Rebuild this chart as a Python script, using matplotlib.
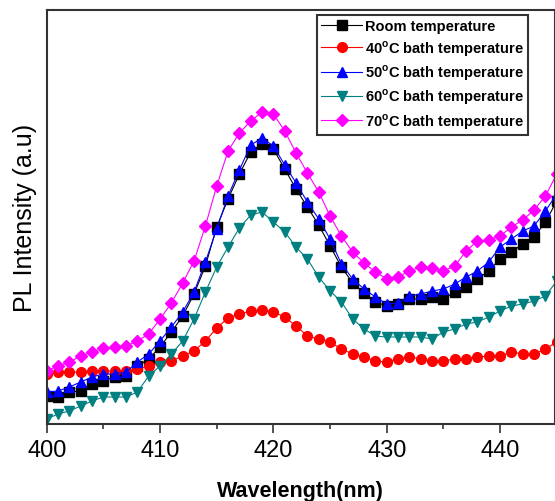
import numpy as np
import matplotlib
matplotlib.use('Agg')
import matplotlib.pyplot as plt
from matplotlib.ticker import MultipleLocator

plt.rcParams['font.family'] = ['Liberation Sans', 'DejaVu Sans']

# 파장 (nm)
wavelength = np.arange(400, 446, 1)

# PL 세기 (a.u.), 그림에서 읽은 값
room = [28, 27, 32, 33, 40, 43, 47, 48, 58, 65,
        77, 92, 108, 130, 158, 197, 225, 250, 272, 280,
        275, 255, 235, 217, 199, 178, 157, 141, 131, 122,
        118, 120, 125, 125, 127, 125, 132, 137, 145, 153,
        165, 172, 180, 187, 202, 223]
bath40 = [50, 52, 52, 52, 53, 53, 53, 53, 55, 58,
          62, 63, 68, 73, 83, 96, 106, 110, 113, 114,
          112, 107, 98, 88, 85, 82, 75, 70, 67, 63,
          62, 65, 67, 65, 63, 63, 65, 65, 67, 68,
          68, 72, 70, 70, 75, 82]
bath50 = [32, 33, 37, 42, 47, 50, 50, 52, 62, 70,
          83, 97, 112, 132, 162, 195, 228, 254, 279, 286,
          278, 259, 241, 222, 205, 185, 160, 145, 135, 127,
          120, 121, 128, 130, 133, 135, 140, 147, 153, 162,
          177, 185, 193, 198, 213, 230]
bath60 = [5, 10, 13, 18, 23, 27, 27, 27, 32, 48,
          58, 70, 83, 105, 132, 157, 177, 196, 209, 212,
          202, 192, 177, 165, 147, 133, 122, 105, 95, 88,
          87, 87, 87, 87, 85, 92, 95, 100, 102, 107,
          113, 118, 120, 123, 128, 143]
bath70 = [53, 58, 62, 68, 72, 76, 77, 78, 83, 90,
          105, 121, 141, 163, 198, 238, 273, 291, 303, 312,
          310, 293, 271, 251, 232, 208, 188, 172, 161, 152,
          145, 147, 153, 157, 156, 153, 158, 173, 183, 184,
          188, 197, 204, 214, 228, 250]

labels = ['Room temperature',
          r'40$^{\mathregular{o}}$C bath temperature',
          r'50$^{\mathregular{o}}$C bath temperature',
          r'60$^{\mathregular{o}}$C bath temperature',
          r'70$^{\mathregular{o}}$C bath temperature']

fig = plt.figure(figsize=(5.55, 5.02), dpi=100)
ax = fig.add_axes([46.7 / 555, 77 / 502, (554.5 - 46.7) / 555, 414 / 502])

series = [
    (room, 'black', 's', 6.5),
    (bath40, '#ff0000', 'o', 7),
    (bath50, '#0000ff', '^', 7.5),
    (bath60, '#008080', 'v', 7.5),
    (bath70, '#ff00ff', 'D', 6),
]
for (vals, color, marker, ms), label in zip(series, labels):
    ax.plot(wavelength, vals, color=color, marker=marker, markersize=ms,
            linewidth=0.8, label=label)

ax.set_xlim(400, 444.8)
ax.set_ylim(0, 414)
ax.set_yticks([])

ax.xaxis.set_major_locator(MultipleLocator(10))
ax.xaxis.set_minor_locator(MultipleLocator(5))
ax.tick_params(axis='x', which='major', direction='out', length=6.5, width=1.2,
               labelsize=17, pad=4, color='#333333')
ax.tick_params(axis='x', which='minor', direction='out', length=3.5, width=1.2,
               color='#333333')
for sp in ax.spines.values():
    sp.set_linewidth(1.5)
    sp.set_color('#333333')

ax.set_xlabel('Wavelength(nm)', fontsize=15.5, fontweight='bold', labelpad=14)
ax.set_ylabel('PL Intensity (a.u)', fontsize=18, labelpad=7)

leg = ax.legend(loc='upper left', bbox_to_anchor=(317 / 555, 1 - 16 / 502),
                bbox_transform=fig.transFigure, frameon=True, fancybox=False,
                prop={'weight': 'bold', 'size': 10.5},
                handlelength=2.8, handletextpad=0.2, labelspacing=0.32,
                borderpad=0.3, borderaxespad=0)
leg.get_frame().set_edgecolor('black')
leg.get_frame().set_linewidth(1.5)

fig.savefig('out.png', dpi=100)
